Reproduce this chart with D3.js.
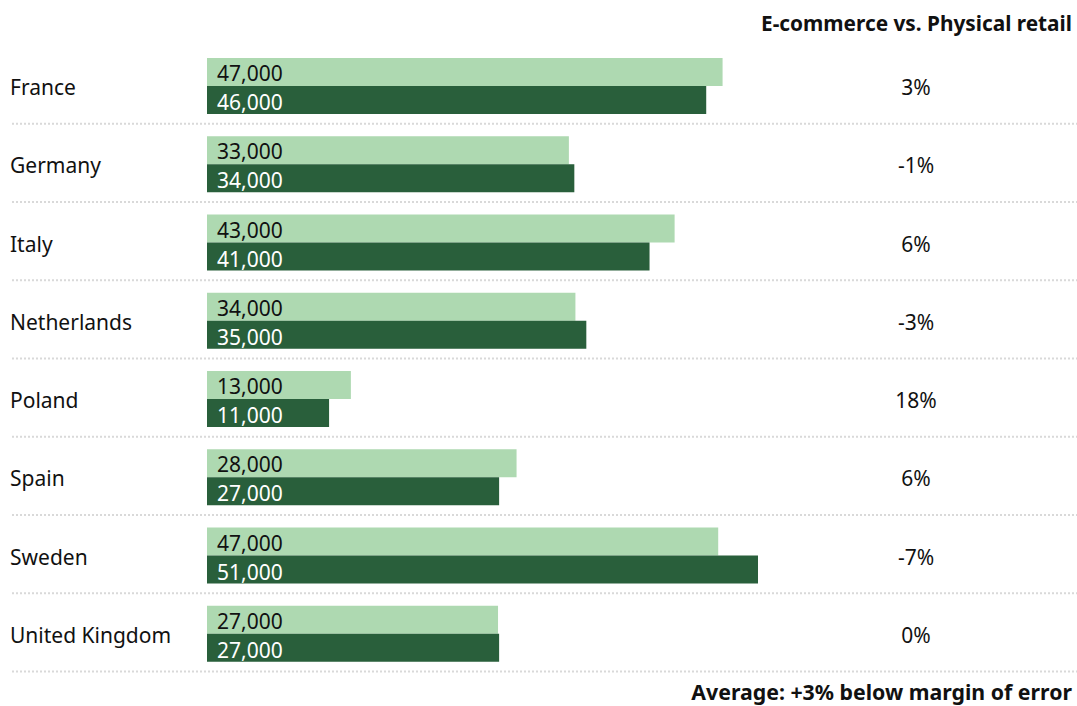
<!DOCTYPE html>
<html>
<head>
<meta charset="utf-8">
<script src="https://cdn.jsdelivr.net/npm/d3@7"></script>
<style>
  html, body { margin: 0; padding: 0; background: #fff; }
  svg { display: block; font-family: 'Noto Sans', 'Open Sans', sans-serif; }
</style>
</head>
<body>
<svg id="chart" width="1077" height="706"></svg>
<script>
const countries = ['France', 'Germany', 'Italy', 'Netherlands', 'Poland', 'Spain', 'Sweden', 'United Kingdom']
// e-commerce (light) and physical retail (dark)
const ecommerce = [47300, 33200, 42900, 33800, 13200, 28400, 46900, 26700]
const physical = [45800, 33700, 40600, 34800, 11200, 26800, 50550, 26800]
const diffLabels = ['3%', '-1%', '6%', '-3%', '18%', '6%', '-7%', '0%']
const headerText = 'E-commerce vs. Physical retail'
const footerText = 'Average: +3% below margin of error'

const svg = d3.select('#chart')
const width = +svg.attr('width')

const y = d3.scaleBand()
  .domain(countries)
  .range([46, 672])

const x = d3.scaleLinear()
  .domain([0, 60000])
  .range([207, 207 + 654])

const barH = 28
const fmt = v => d3.format(',')(Math.round(v / 1000) * 1000)

svg.append('text')
  .attr('x', 1072)
  .attr('y', 31)
  .attr('text-anchor', 'end')
  .attr('font-weight', 700)
  .attr('font-size', 20.8)
  .attr('fill', '#111')
  .text(headerText)

const rows = svg.selectAll('.row')
  .data(countries)
  .enter()
  .append('g')
  .attr('class', 'row')
  .attr('transform', d => 'translate(0,' + y(d) + ')')

rows.append('line')
  .attr('x1', 12)
  .attr('x2', width)
  .attr('y1', y.bandwidth() - 0.5)
  .attr('y2', y.bandwidth() - 0.5)
  .attr('stroke', '#d9d9d9')
  .attr('stroke-width', 2)
  .attr('stroke-dasharray', '2,2')

rows.append('text')
  .attr('x', 10)
  .attr('y', 49)
  .attr('font-size', 21)
  .attr('fill', '#111')
  .text(d => d)

rows.append('rect')
  .attr('x', x(0))
  .attr('y', 12)
  .attr('width', (d, i) => x(ecommerce[i]) - x(0))
  .attr('height', barH)
  .attr('fill', '#aed9b1')

rows.append('rect')
  .attr('x', x(0))
  .attr('y', 12 + barH)
  .attr('width', (d, i) => x(physical[i]) - x(0))
  .attr('height', barH)
  .attr('fill', '#295f3b')

rows.append('text')
  .attr('x', x(0) + 10)
  .attr('y', 35)
  .attr('font-size', 21)
  .attr('fill', '#111')
  .text((d, i) => fmt(ecommerce[i]))

rows.append('text')
  .attr('x', x(0) + 10)
  .attr('y', 64)
  .attr('font-size', 21)
  .attr('fill', '#fff')
  .text((d, i) => fmt(physical[i]))

rows.append('text')
  .attr('x', 916)
  .attr('y', 49)
  .attr('text-anchor', 'middle')
  .attr('font-size', 21)
  .attr('fill', '#111')
  .text((d, i) => diffLabels[i])

svg.append('text')
  .attr('x', 1072)
  .attr('y', 700)
  .attr('text-anchor', 'end')
  .attr('font-weight', 700)
  .attr('font-size', 21.3)
  .attr('fill', '#111')
  .text(footerText)
</script>
</body>
</html>
